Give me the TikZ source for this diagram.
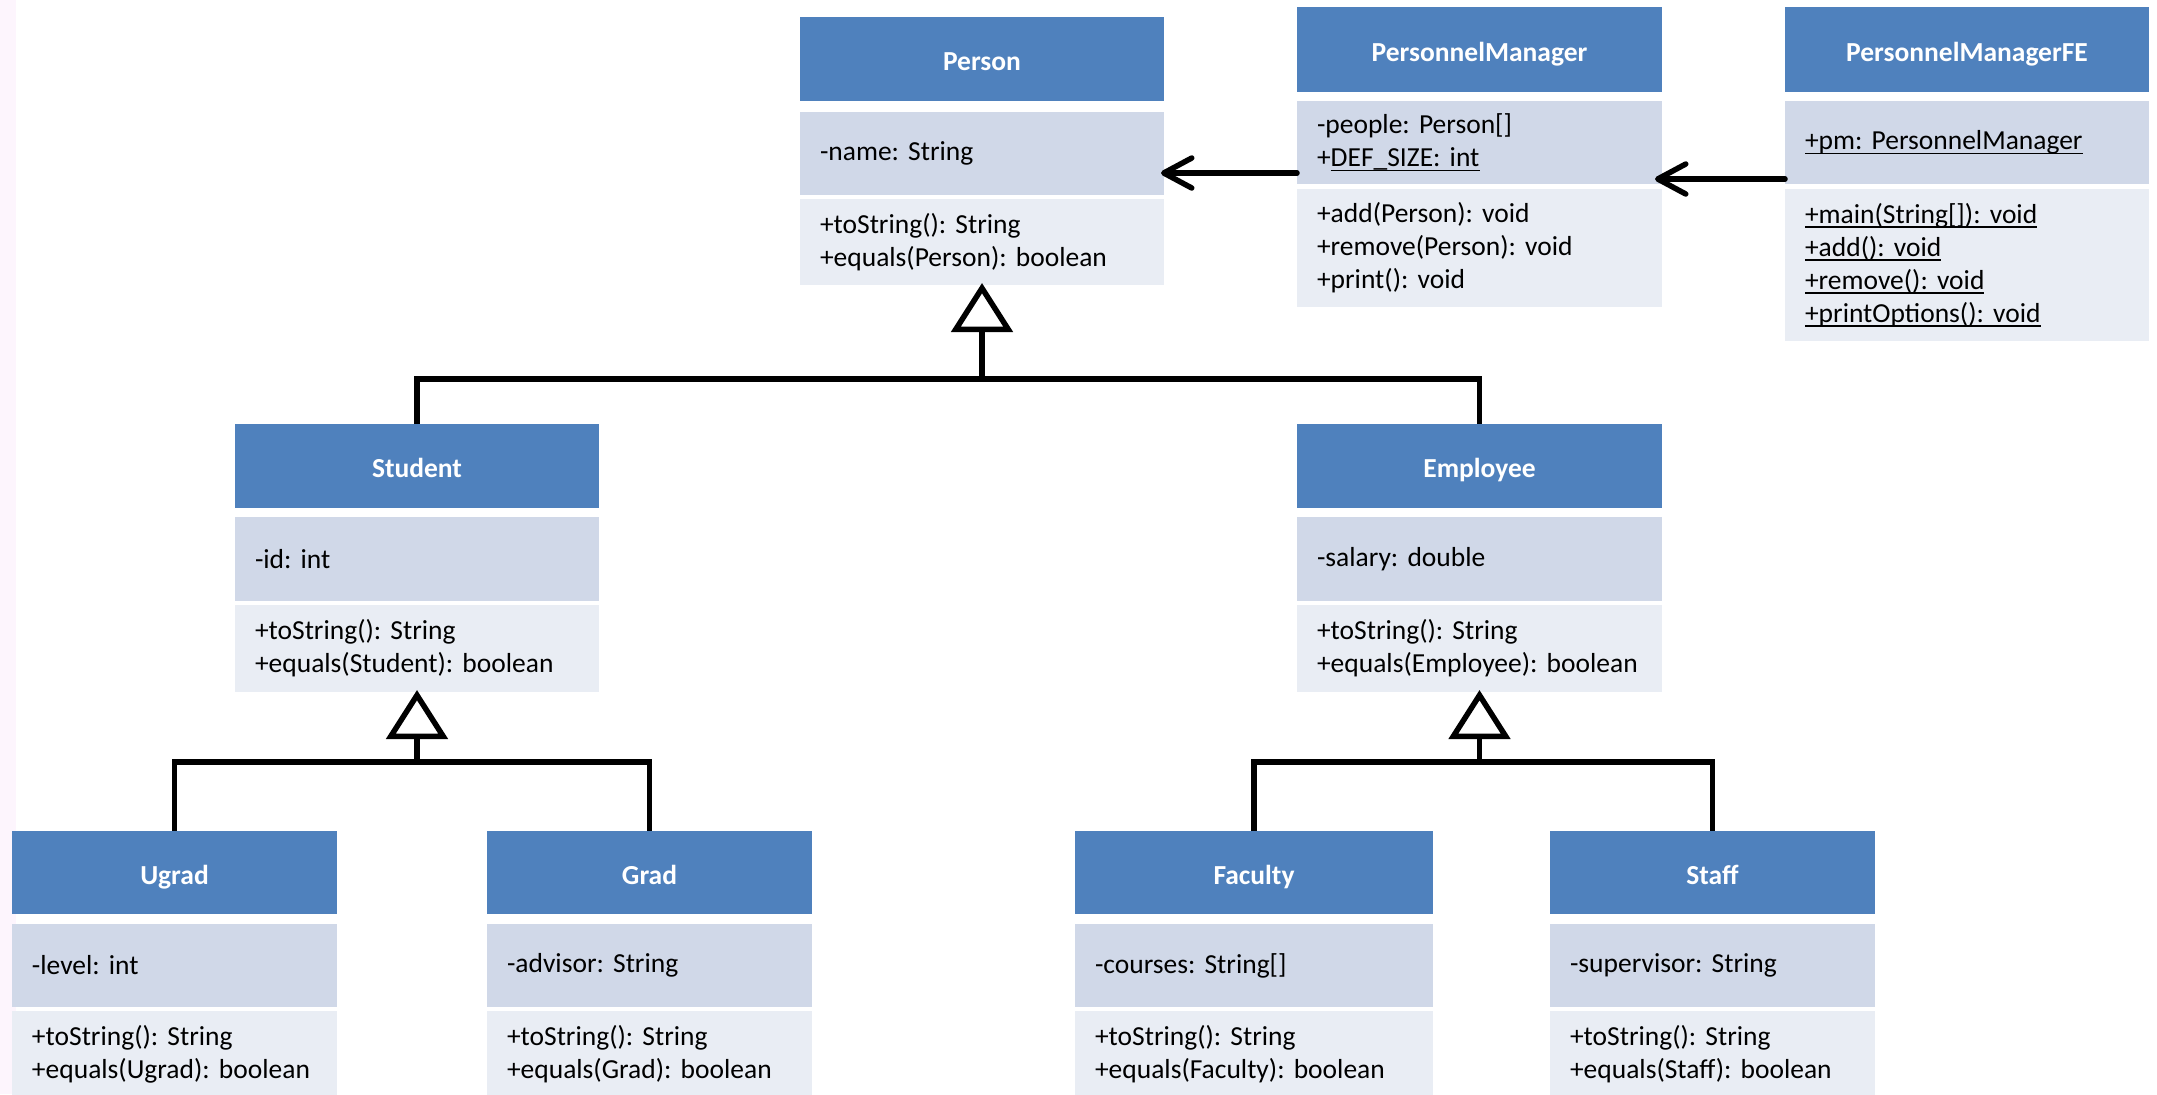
\documentclass[tikz,border=0pt]{standalone}
\usepackage{fontspec}
\setmainfont{Carlito}
\usetikzlibrary{arrows.meta}
\definecolor{hdrblue}{HTML}{4F81BD}
\definecolor{attrfill}{HTML}{D0D8E8}
\definecolor{methfill}{HTML}{E9EDF4}
\definecolor{edgepink}{HTML}{FDF5FD}
\frenchspacing
% underline at a fixed depth below the baseline (static members)
\newsavebox{\ulinebox}
\newcommand{\stline}[1]{\leavevmode\sbox{\ulinebox}{#1}\rlap{\rule[-2.2pt]{\wd\ulinebox}{0.7pt}}\usebox{\ulinebox}}

\tikzset{
  cls/.style={anchor=north west, inner xsep=10pt, inner ysep=0pt, outer sep=0pt,
    font=\fontsize{13.75pt}{16.5pt}\selectfont},
  hdr/.style={cls, fill=hdrblue, text=white, align=center, text height=11.9pt, text depth=0pt,
    font=\fontsize{13.75pt}{16.5pt}\selectfont\bfseries},
  attr/.style={cls, fill=attrfill, align=left},
  meth/.style={cls, fill=methfill, align=left},
  link/.style={line width=2.75pt, line join=miter, draw=black},
  gen/.style={link, shorten >=-1pt, -{Triangle[open, length=24.5pt, width=30.5pt, fill=white]}},
  assoc/.style={link, line cap=round, -{Straight Barb[length=14pt, width=15pt, line cap=round, line join=round]}}
}

\begin{document}
\begin{tikzpicture}[x=0.5pt, y=-0.5pt]
\useasboundingbox (0,0) rectangle (2157,1094);
\fill[white] (0,0) rectangle (2157,1094);
\fill[edgepink] (0,0) rectangle (16,1094);

% Person
\node[hdr,  text width=162pt, minimum height=42pt]   (personH) at (800,17)  {Person};
\node[attr, text width=162pt, minimum height=41.5pt] (personA) at (800,112) {-name: String};
\node[meth, text width=162pt, minimum height=43pt]   (personM) at (800,199) {+toString(): String\\+equals(Person): boolean};

% PersonnelManager
\node[hdr,  text width=162.5pt, minimum height=42.5pt] (pmH) at (1297,7)   {PersonnelManager};
\node[attr, text width=162.5pt, minimum height=41.5pt] (pmA) at (1297,101) {-people: Person[]\\+\stline{DEF\_SIZE: int}};
\node[meth, text width=162.5pt, minimum height=59pt]   (pmM) at (1297,189) {+add(Person): void\\+remove(Person): void\\+print(): void};

% PersonnelManagerFE
\node[hdr,  text width=162pt, minimum height=42.5pt] (pmfeH) at (1785,7)   {PersonnelManagerFE};
\node[attr, text width=162pt, minimum height=41.5pt] (pmfeA) at (1785,101) {\stline{+pm: PersonnelManager}};
\node[meth, text width=162pt, minimum height=76pt]   (pmfeM) at (1785,189) {\stline{+main(String[]): void}\\\stline{+add(): void}\\\stline{+remove(): void}\\\stline{+printOptions(): void}};

% Student
\node[hdr,  text width=162pt, minimum height=42pt]   (studentH) at (235,424) {Student};
\node[attr, text width=162pt, minimum height=42pt]   (studentA) at (235,517) {-id: int};
\node[meth, text width=162pt, minimum height=43.5pt] (studentM) at (235,605) {+toString(): String\\+equals(Student): boolean};

% Employee
\node[hdr,  text width=162.5pt, minimum height=42pt]   (employeeH) at (1297,424) {Employee};
\node[attr, text width=162.5pt, minimum height=42pt]   (employeeA) at (1297,517) {-salary: double};
\node[meth, text width=162.5pt, minimum height=43.5pt] (employeeM) at (1297,605) {+toString(): String\\+equals(Employee): boolean};

% Ugrad
\node[hdr,  text width=142.5pt, minimum height=41.5pt] (ugradH) at (12,831)  {Ugrad};
\node[attr, text width=142.5pt, minimum height=41.5pt] (ugradA) at (12,924)  {-level: int};
\node[meth, text width=142.5pt, minimum height=43pt]   (ugradM) at (12,1011) {+toString(): String\\+equals(Ugrad): boolean};

% Grad
\node[hdr,  text width=142.5pt, minimum height=41.5pt] (gradH) at (487,831)  {Grad};
\node[attr, text width=142.5pt, minimum height=41.5pt] (gradA) at (487,924)  {-advisor: String};
\node[meth, text width=142.5pt, minimum height=43pt]   (gradM) at (487,1011) {+toString(): String\\+equals(Grad): boolean};

% Faculty
\node[hdr,  text width=159pt, minimum height=41.5pt] (facultyH) at (1075,831)  {Faculty};
\node[attr, text width=159pt, minimum height=41.5pt] (facultyA) at (1075,924)  {-courses: String[]};
\node[meth, text width=159pt, minimum height=43pt]   (facultyM) at (1075,1011) {+toString(): String\\+equals(Faculty): boolean};

% Staff
\node[hdr,  text width=142.5pt, minimum height=41.5pt] (staffH) at (1550,831)  {Staff};
\node[attr, text width=142.5pt, minimum height=41.5pt] (staffA) at (1550,924)  {-supervisor: String};
\node[meth, text width=142.5pt, minimum height=43pt]   (staffM) at (1550,1011) {+toString(): String\\+equals(Staff): boolean};

% Generalisation trees
\coordinate (pbar) at ([yshift=-47pt]personM.south);
\coordinate (sbar) at ([yshift=-35pt]studentM.south);
\coordinate (ebar) at ([yshift=-35pt]employeeM.south);

\draw[link] (studentH.north) |- (pbar) -| (employeeH.north);
\draw[gen] (pbar) -- (personM.south);

\draw[link] (ugradH.north) |- (sbar) -| (gradH.north);
\draw[gen] (sbar) -- (studentM.south);

\draw[link] (facultyH.north) |- (ebar) -| (staffH.north);
\draw[gen] (ebar) -- (employeeM.south);

% Associations
\coordinate (a1) at ([yshift=5.5pt]pmA.south west);
\draw[assoc, shorten >=-1.5pt] (a1) -- (a1 -| personA.east);
\coordinate (a2) at ([yshift=2.5pt]pmfeA.south west);
\draw[assoc, shorten >=-3.5pt] (a2) -- (a2 -| pmA.east);
\end{tikzpicture}
\end{document}
